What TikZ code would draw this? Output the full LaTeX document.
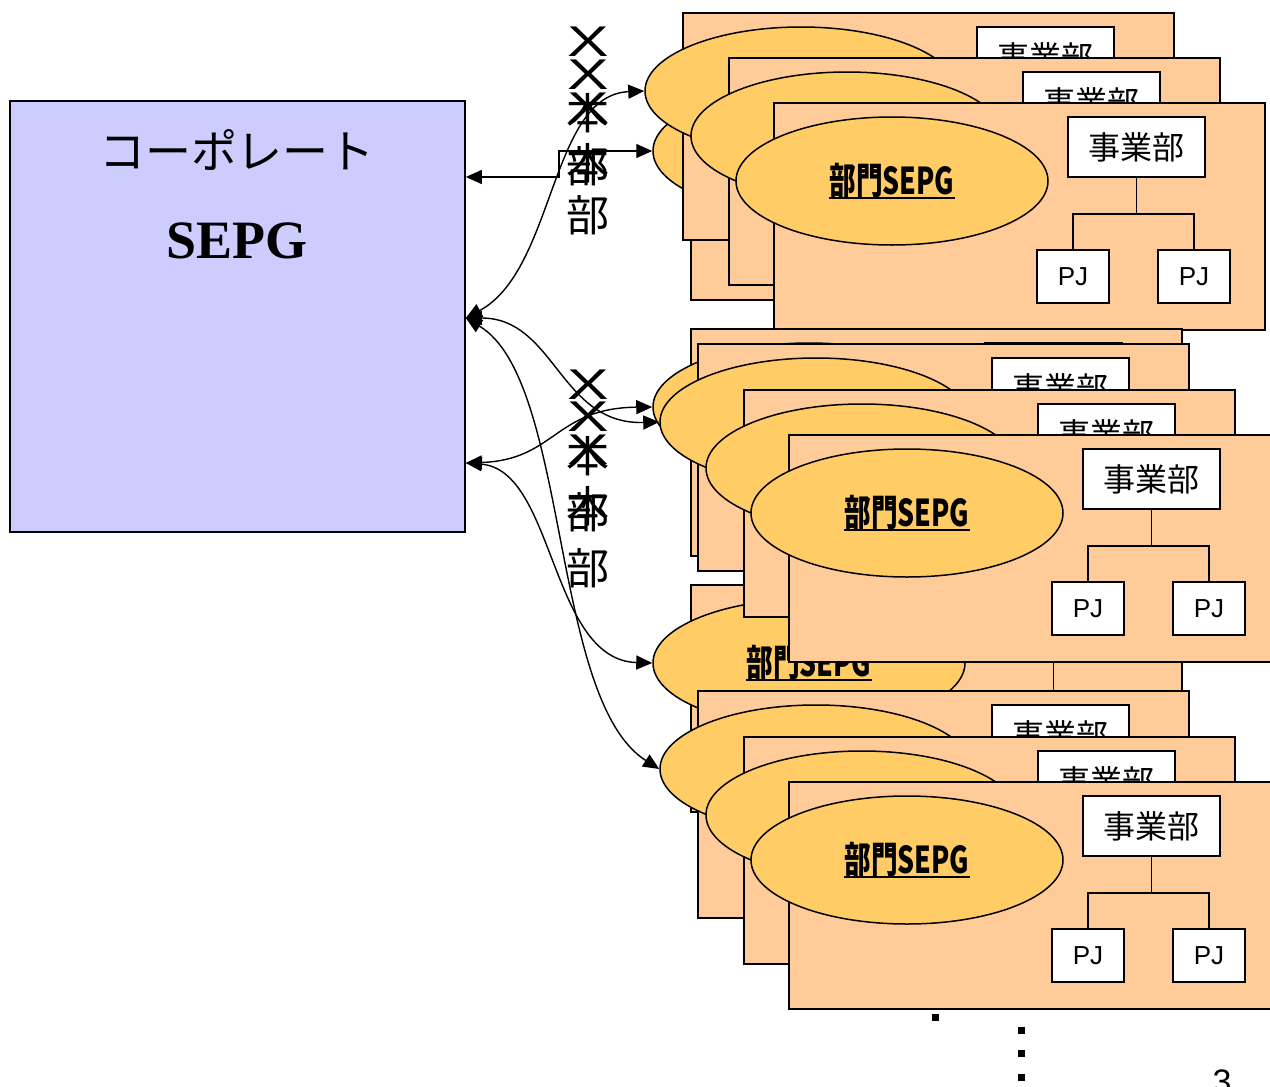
\documentclass[tikz,border=0pt]{standalone}
\usepackage{fontspec}
\usepackage{graphicx}
\usetikzlibrary{shapes.geometric,arrows.meta}
\setmainfont{Liberation Sans}
\newfontfamily\jfont{Noto Sans CJK JP}
\newfontfamily\jnarrow[FakeStretch=0.72]{Noto Sans CJK JP}
\newfontfamily\serifb{Liberation Serif}
\definecolor{cardfill}{RGB}{255,204,153}
\definecolor{sepgfill}{RGB}{255,204,102}
\definecolor{corpfill}{RGB}{204,204,255}
\newcommand{\bx}{{\rmfamily\scalebox{1.45}[1]{X}}}
\newcommand{\card}[3]{%
  \begin{scope}[shift={(#2,#3)}]
    \node[cardbox] (#1) at (0,0) {};
    \node[sepg] (#1s) at (119,79) {};
    \node[sepgtext] (#1t) at (#1s) {部門SEPG};
    \draw[line width=1.6pt] ([yshift=-3pt]#1t.base west) -- ([yshift=-3pt]#1t.base east);
    \node[jbox] (#1j) at (363.5,45) {事業部};
    \node[pjbox] (#1p) at (300,174.5) {PJ};
    \node[pjbox] (#1q) at (421,174.5) {PJ};
    \draw[edge] (#1j.south) -- ++(0,36) -| (#1p.north);
    \draw[edge] (#1j.south) ++(0,36) -| (#1q.north);
  \end{scope}}
\begin{document}
\begin{tikzpicture}[x=1pt, y=-1pt,
    cardbox/.style={draw, fill=cardfill, line width=1.7pt, anchor=north west,
      minimum width=491pt, minimum height=227pt, inner sep=0pt},
    sepg/.style={ellipse, draw, fill=sepgfill, line width=1.5pt,
      minimum width=312pt, minimum height=128pt, inner sep=0pt},
    sepgtext/.style={inner sep=0pt, font=\jnarrow\bfseries\fontsize{37}{37}\selectfont},
    jbox/.style={draw, fill=white, line width=1.5pt, minimum width=137pt,
      minimum height=60pt, inner sep=0pt, font=\jfont\fontsize{32}{32}\selectfont},
    pjbox/.style={draw, fill=white, line width=1.5pt, minimum width=72pt,
      minimum height=53pt, inner sep=0pt, font=\fontsize{26}{26}\selectfont},
    edge/.style={line width=1.5pt},
    link/.style={{Triangle[length=16pt,width=14pt]}-{Triangle[length=16pt,width=14pt]}, line width=1.4pt},
    vchar/.style={inner sep=0pt, font=\jfont\fontsize{43}{43}\selectfont},
    dot/.style={fill=black, minimum size=7pt, inner sep=0pt}]
  \useasboundingbox (0,0) rectangle (1270,1087);
  \clip (0,0) rectangle (1270,1087);

  \node[draw, fill=corpfill, line width=1.6pt, minimum width=455pt, minimum height=431pt] (corp) at (237.5,316.5) {};
  \node[font=\jfont\fontsize{46}{46}\selectfont] (corpj) at (237,150) {コーポレート};
  \node[font=\serifb\bfseries\fontsize{54}{54}\selectfont] (corps) at (237,241) {SEPG};

  \card{h1}{690}{72}
  \card{a1}{682}{12}
  \card{a2}{728}{57}
  \card{a3}{773}{102}
  \card{m0}{690}{328}
  \card{m1}{697}{343}
  \card{l0}{690}{584}
  \card{m2}{743}{389}
  \card{m3}{788}{434}
  \card{b0}{697}{690}
  \card{b1}{743}{736}
  \card{b2}{788}{781}

  \foreach \c/\y [count=\i] in {\bx/42, \bx/75, \bx/108, 本/113, 本/163, 部/166, 部/215}
    \node[vchar] (ta\i) at (588,\y) {\c};
  \foreach \c/\y [count=\i] in {\bx/385, \bx/417, \bx/450, 本/456, 本/506, 部/512, 部/568}
    \node[vchar] (tb\i) at (588,\y) {\c};

  \coordinate (corpa) at ([yshift=139.5pt]corp.east);
  \coordinate (corpb) at ([yshift=-1.5pt]corp.east);
  \coordinate (corpc) at ([yshift=-146.5pt]corp.east);
  \draw[link] (corpa) -- ++(93,0) |- (h1s.west);
  \draw[link] (corpb) .. controls (555,270) and (550,95) .. (a1s.west);
  \draw[link] (corpb) .. controls (555,318) and (560,425) .. (m1s.west);
  \draw[link] (corpc) .. controls (555,460) and (555,408) .. (m0s.west);
  \draw[link] (corpb) .. controls (570,380) and (550,700) .. (b0s.west);
  \draw[link] (corpc) .. controls (555,470) and (550,660) .. (l0s.west);

  \node[dot] (d1) at (935,1017) {};
  \node[dot] (d2) at (1021,1030) {};
  \node[dot] (d3) at (1021,1053) {};
  \node[dot] (d4) at (1021,1077) {};
  \node[anchor=base, inner sep=0pt, font=\fontsize{34}{34}\selectfont] (pg) at (1222,1093) {3};
\end{tikzpicture}
\end{document}
